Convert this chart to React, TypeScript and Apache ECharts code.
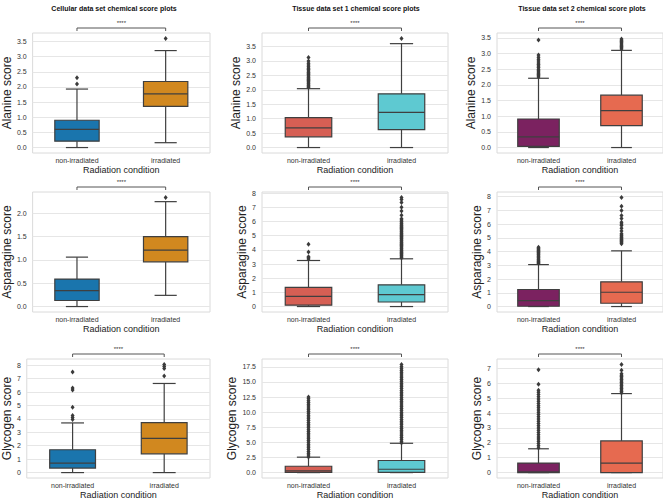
import React, { useEffect, useRef } from "react";
import * as echarts from "echarts";

const categories = ["non-irradiated", "irradiated"];
const colTitles = [
  "Cellular data set chemical score plots",
  "Tissue data set 1 chemical score plots",
  "Tissue data set 2 chemical score plots",
];
const rowNames = ["Alanine score", "Asparagine score", "Glycogen score"];
const xName = "Radiation condition";
const colColors = [
  ["#1a75ad", "#d1881f"],
  ["#d65f54", "#5ec9d1"],
  ["#7b2260", "#e66a50"],
];

// box stats [min, q1, median, q3, max] for [non-irradiated, irradiated]
const statsCellAla = [[0, 0.21, 0.6, 0.9, 1.93], [0.16, 1.36, 1.77, 2.18, 3.2]];
const statsT1Ala = [[0, 0.37, 0.68, 1.04, 2.04], [0, 0.62, 1.22, 1.86, 3.6]];
const statsT2Ala = [[0, 0.04, 0.34, 0.91, 2.21], [0, 0.7, 1.18, 1.67, 3.1]];
const statsCellAsp = [[0, 0.13, 0.34, 0.59, 1.06], [0.24, 0.96, 1.21, 1.5, 2.25]];
const statsT1Asp = [[0, 0.1, 0.72, 1.35, 3.25], [0, 0.32, 0.84, 1.53, 3.37]];
const statsT2Asp = [[0, 0.02, 0.43, 1.24, 3.05], [0, 0.24, 1.04, 1.8, 4.05]];
const statsCellGly = [[0, 0.34, 0.71, 1.7, 3.7], [0, 1.4, 2.55, 3.72, 6.64]];
const statsT1Gly = [[0, 0.05, 0.3, 1.05, 2.55], [0, 0.05, 0.55, 2.0, 4.85]];
const statsT2Gly = [[0, 0, 0.05, 0.64, 1.6], [0, 0, 0.64, 2.13, 5.31]];

// outliers [non-irradiated, irradiated]
const outCellAla = [[2.1, 2.3], [3.6]];
const outT1Ala = [
  [2.08, 2.12, 2.16, 2.2, 2.24, 2.28, 2.32, 2.36, 2.4, 2.44, 2.48, 2.52, 2.56, 2.6, 2.65, 2.7, 2.75, 2.8, 2.86, 2.92, 3.0, 3.12],
  [3.78],
];
const outT2Ala = [
  [2.25, 2.29, 2.33, 2.37, 2.41, 2.45, 2.5, 2.55, 2.6, 2.65, 2.7, 2.76, 2.82, 2.88, 2.95, 3.43],
  [3.14, 3.18, 3.22, 3.26, 3.3, 3.34, 3.38, 3.42, 3.46],
];
const outCellAsp = [[], [2.34]];
const outT1Asp = [
  [3.35, 3.45, 3.52, 3.85, 4.4],
  [3.42, 3.5, 3.58, 3.66, 3.74, 3.82, 3.9, 3.98, 4.06, 4.14, 4.22, 4.3, 4.38, 4.46, 4.54, 4.62, 4.7, 4.78, 4.86, 4.94, 5.02, 5.1, 5.18, 5.26, 5.34, 5.42, 5.5, 5.58, 5.66, 5.74, 5.82, 5.9, 6.0, 6.1, 6.2, 6.45, 6.75, 7.0, 7.35, 7.55, 7.7],
];
const outT2Asp = [
  [3.12, 3.2, 3.28, 3.36, 3.44, 3.52, 3.6, 3.68, 3.76, 3.84, 3.92, 4.0, 4.08, 4.16, 4.24, 4.31],
  [4.56, 4.64, 4.72, 4.8, 4.88, 4.96, 5.04, 5.12, 5.2, 5.29, 5.5, 5.7, 5.9, 6.0, 6.13, 6.4, 6.62, 6.98, 7.3, 7.93],
];
const outCellGly = [[3.95, 4.1, 4.25, 4.87, 6.15, 6.3, 7.5], [7.2, 7.75, 7.9, 8.06]];
const outT1Gly = [
  [2.6, 2.9, 3.2, 3.5, 3.8, 4.1, 4.4, 4.7, 5.0, 5.3, 5.6, 5.9, 6.2, 6.5, 6.8, 7.1, 7.4, 7.7, 8.0, 8.3, 8.6, 8.9, 9.2, 9.5, 9.8, 10.1, 10.4, 10.7, 11.0, 11.3, 11.6, 11.9, 12.2, 12.5],
  [4.9, 5.2, 5.5, 5.8, 6.1, 6.4, 6.7, 7.0, 7.3, 7.6, 7.9, 8.2, 8.5, 8.8, 9.1, 9.4, 9.7, 10.0, 10.3, 10.6, 10.9, 11.2, 11.5, 11.8, 12.1, 12.4, 12.7, 13.0, 13.3, 13.6, 13.9, 14.2, 14.5, 14.8, 15.1, 15.4, 15.7, 16.0, 16.3, 16.6, 16.9, 17.2, 17.5, 17.9],
];
const outT2Gly = [
  [1.65, 1.8, 1.95, 2.1, 2.25, 2.4, 2.55, 2.7, 2.85, 3.0, 3.15, 3.3, 3.45, 3.6, 3.75, 3.9, 4.05, 4.2, 4.35, 4.5, 4.65, 4.8, 4.95, 5.1, 5.25, 5.4, 5.53, 5.93, 6.91],
  [5.35, 5.45, 5.55, 5.65, 5.75, 5.85, 5.95, 6.05, 6.15, 6.25, 6.35, 6.45, 6.55, 6.65, 6.87, 7.27],
];

const panelStats = [statsCellAla, statsT1Ala, statsT2Ala, statsCellAsp, statsT1Asp, statsT2Asp, statsCellGly, statsT1Gly, statsT2Gly];
const panelOut = [outCellAla, outT1Ala, outT2Ala, outCellAsp, outT1Asp, outT2Asp, outCellGly, outT1Gly, outT2Gly];
const yMins = [-0.18, -0.189, -0.174, -0.117, -0.385, -0.397, -0.403, -0.895, -0.364];
const yMaxs = [3.78, 3.969, 3.654, 2.457, 8.085, 8.327, 8.463, 18.795, 7.634];
const tickSets = [
  [0, 0.5, 1, 1.5, 2, 2.5, 3, 3.5],
  [0, 0.5, 1, 1.5, 2, 2.5, 3, 3.5],
  [0, 0.5, 1, 1.5, 2, 2.5, 3, 3.5],
  [0, 0.5, 1, 1.5, 2],
  [0, 1, 2, 3, 4, 5, 6, 7, 8],
  [0, 1, 2, 3, 4, 5, 6, 7, 8],
  [0, 1, 2, 3, 4, 5, 6, 7, 8],
  [0, 2.5, 5, 7.5, 10, 12.5, 15, 17.5],
  [0, 1, 2, 3, 4, 5, 6, 7],
];
const tickDecimals = [1, 1, 1, 1, 0, 0, 0, 1, 0];
const sigLabel = "****";

// layout
const colLeft = [26, 262, 497];
const colWidth = [184, 186, 185];
const rowTop = [33, 192, 359];
const rowHeight = [120, 120, 119];
const titleX = [114, 356, 582];

const FONT = "Liberation Sans, Arial, sans-serif";
const EDGE = "#3f3f3f";

export default function App() {
  const ref = useRef<HTMLDivElement>(null);
  useEffect(() => {
    if (!ref.current) return;
    const chart = echarts.init(ref.current, null, { renderer: "svg" });
    const grids: any[] = [];
    const xAxes: any[] = [];
    const yAxes: any[] = [];
    const series: any[] = [];
    for (let p = 0; p < 9; p++) {
      const r = Math.floor(p / 3);
      const c = p % 3;
      grids.push({
        left: colLeft[c],
        top: rowTop[r],
        width: colWidth[c],
        height: rowHeight[r],
        show: true,
        borderColor: "#dadada",
        borderWidth: 1,
        backgroundColor: "#ffffff",
      });
      xAxes.push({
        type: "category",
        gridIndex: p,
        data: categories,
        axisLine: { show: false },
        axisTick: { show: false },
        axisLabel: { fontSize: 7, color: "#333", margin: 4, fontFamily: FONT },
        name: xName,
        nameLocation: "middle",
        nameGap: 12,
        nameTextStyle: { fontSize: 9, color: "#222", fontFamily: FONT },
      });
      const dec = tickDecimals[p];
      yAxes.push({
        type: "value",
        gridIndex: p,
        min: yMins[p],
        max: yMaxs[p],
        axisLine: { show: false },
        axisTick: { show: false, customValues: tickSets[p] },
        axisLabel: {
          customValues: tickSets[p],
          fontSize: 7,
          color: "#333",
          margin: 6,
          fontFamily: FONT,
          formatter: (v: number) => v.toFixed(dec),
        },
        splitLine: { show: true, lineStyle: { color: "#e6e6e6", width: 1 } },
        name: rowNames[r],
        nameLocation: "middle",
        nameGap: 13,
        nameTextStyle: { fontSize: 12, color: "#222", fontFamily: FONT },
      });
      const stats = panelStats[p];
      series.push({
        type: "custom",
        xAxisIndex: p,
        yAxisIndex: p,
        coordinateSystem: "cartesian2d",
        encode: { x: 0, y: [1, 2, 3, 4, 5] },
        data: stats.map((s, i) => ({
          value: [i, ...s],
          itemStyle: { color: colColors[c][i] },
        })),
        renderItem: (params: any, api: any) => {
          const cat = api.value(0);
          const x = api.coord([cat, api.value(3)])[0];
          const yMin = api.coord([cat, api.value(1)])[1];
          const yQ1 = api.coord([cat, api.value(2)])[1];
          const yMed = api.coord([cat, api.value(3)])[1];
          const yQ3 = api.coord([cat, api.value(4)])[1];
          const yMax = api.coord([cat, api.value(5)])[1];
          const band = api.size([1, 0])[0];
          const bw = band * 0.5;
          const cw = band * 0.25;
          const color = api.visual("color");
          const ls = { stroke: EDGE, lineWidth: 1.2 };
          return {
            type: "group",
            children: [
              { type: "line", shape: { x1: x, y1: yMin, x2: x, y2: yQ1 }, style: ls },
              { type: "line", shape: { x1: x, y1: yQ3, x2: x, y2: yMax }, style: ls },
              { type: "line", shape: { x1: x - cw / 2, y1: yMin, x2: x + cw / 2, y2: yMin }, style: ls },
              { type: "line", shape: { x1: x - cw / 2, y1: yMax, x2: x + cw / 2, y2: yMax }, style: ls },
              {
                type: "rect",
                shape: { x: x - bw / 2, y: yQ3, width: bw, height: Math.max(yQ1 - yQ3, 0.5) },
                style: { fill: color, stroke: EDGE, lineWidth: 1.2 },
              },
              { type: "line", shape: { x1: x - bw / 2, y1: yMed, x2: x + bw / 2, y2: yMed }, style: ls },
            ],
          };
        },
        z: 2,
      });
      const outs = panelOut[p];
      const pts: number[][] = [];
      outs.forEach((arr, i) => arr.forEach((v) => pts.push([i, v])));
      series.push({
        type: "scatter",
        xAxisIndex: p,
        yAxisIndex: p,
        symbol: "diamond",
        symbolSize: [4, 5],
        itemStyle: { color: "#3a3a3a", opacity: 1 },
        data: pts,
        z: 3,
      });
    }
    const titles = colTitles.map((t, c) => ({
      type: "text",
      left: titleX[c],
      top: 3,
      style: { text: t, fontSize: 7, fontWeight: "bold", fill: "#111", fontFamily: FONT, textAlign: "center" },
    }));
    chart.setOption({
      animation: false,
      backgroundColor: "#ffffff",
      grid: grids,
      xAxis: xAxes,
      yAxis: yAxes,
      series,
    });
    const graphics: any[] = [];
    colTitles.forEach((t, c) => {
      graphics.push({
        type: "text",
        x: titleX[c],
        y: 8,
        style: { text: t, fontSize: 7, fontWeight: "bold", fill: "#111", fontFamily: FONT, align: "center", verticalAlign: "middle" },
      });
    });
    for (let p = 0; p < 9; p++) {
      const x0 = chart.convertToPixel({ xAxisIndex: p } as any, 0 as any) as any as number;
      const x1 = chart.convertToPixel({ xAxisIndex: p } as any, 1 as any) as any as number;
      const top = chart.convertToPixel({ yAxisIndex: p } as any, yMaxs[p] as any) as any as number;
      const yb = top - 5;
      graphics.push({
        type: "polyline",
        shape: { points: [[x0, yb + 3], [x0, yb], [x1, yb], [x1, yb + 3]] },
        style: { stroke: "#555", lineWidth: 1, fill: null },
      });
      graphics.push({
        type: "text",
        x: (x0 + x1) / 2,
        y: yb - 5,
        style: { text: sigLabel, fontSize: 6, fill: "#333", fontFamily: FONT, align: "center", verticalAlign: "middle" },
      });
    }
    chart.setOption({ graphic: graphics });
    void titles;
    return () => chart.dispose();
  }, []);
  return <div ref={ref} style={{ position: "fixed", left: 0, top: 0, width: 663, height: 503 }} />;
}
